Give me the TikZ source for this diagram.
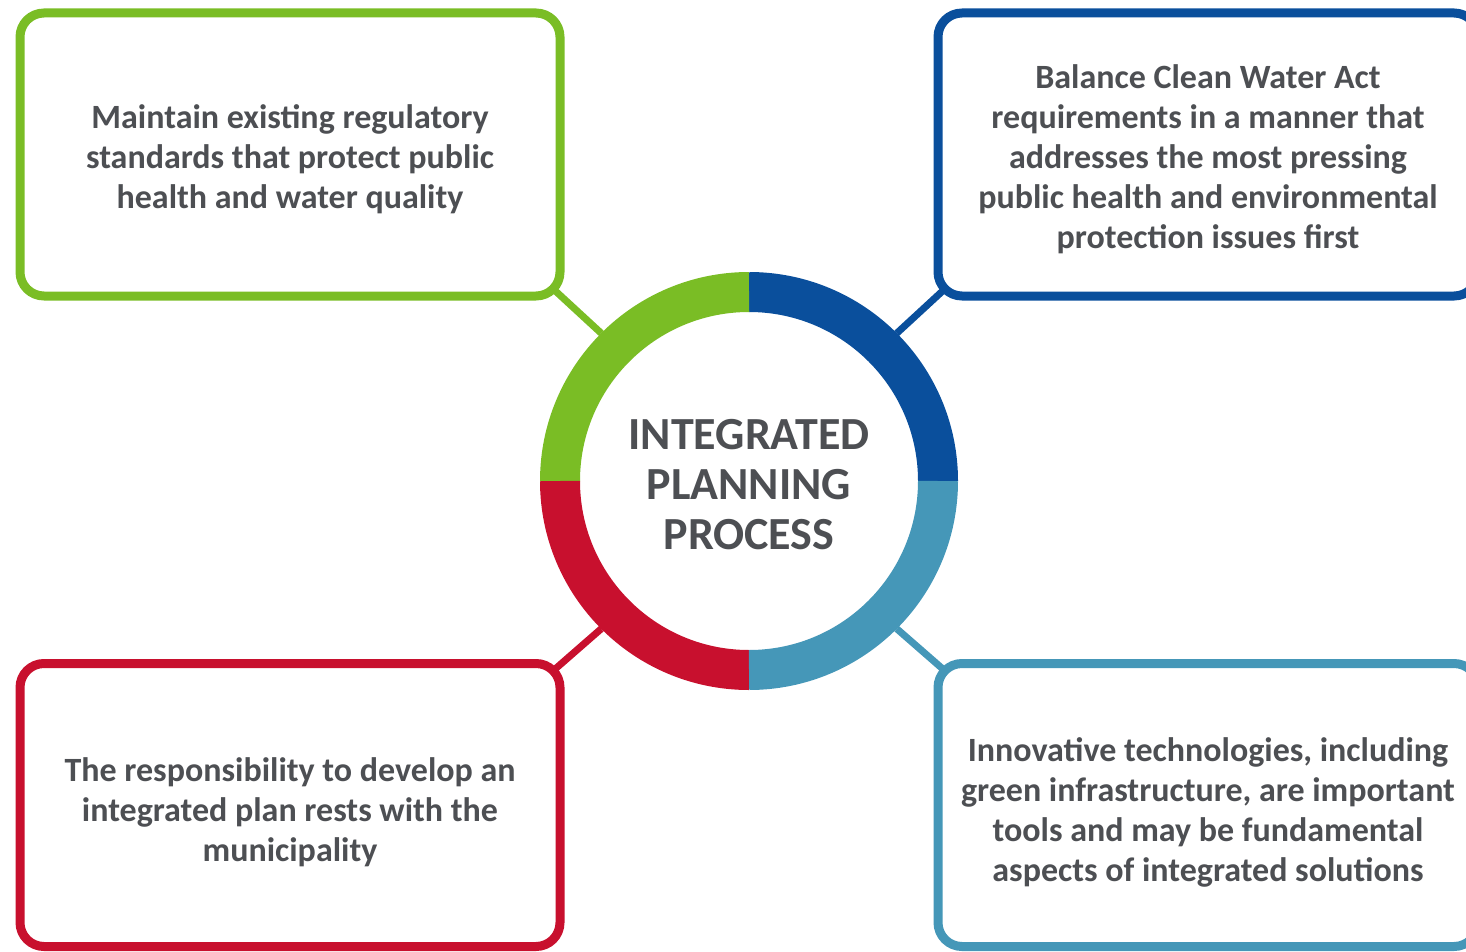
\documentclass[tikz,border=0pt]{standalone}
\usepackage{fontspec}
\setmainfont{Carlito}
\usetikzlibrary{backgrounds}
\definecolor{cgreen}{HTML}{7ABD25}
\definecolor{cblue}{HTML}{0A4F9C}
\definecolor{clight}{HTML}{4597B8}
\definecolor{cred}{HTML}{C8102E}
\definecolor{ctext}{HTML}{4D4F53}
\begin{document}
\begin{tikzpicture}[x=1pt,y=-1pt,
  infobox/.style={draw, line width=9pt, rounded corners=24pt, fill=white,
    outer sep=0pt, minimum width=540pt, minimum height=283pt},
  infotext/.style={align=center, text=ctext, font=\fontsize{34}{40}\selectfont\bfseries},
  link/.style={line width=7pt},
  seg/.style={line width=40pt, line cap=butt}]
\useasboundingbox (0,0) rectangle (1466,952);
\clip (0,0) rectangle (1466,952);
\node[circle, minimum size=418pt, inner sep=0pt, outer sep=0pt] (ring) at (749,481) {};
\node[infobox, draw=cgreen] (g) at (290,154.5) {};
\node[infobox, draw=cblue] (b) at (1208,154.5) {};
\node[infobox, draw=cred] (r) at (290,805) {};
\node[infobox, draw=clight] (l) at (1208,805) {};
\node[infotext] (gt) at ([shift={(0,5)}]g.center) {Maintain existing regulatory\\standards that protect public\\health and water quality};
\node[infotext] (bt) at ([shift={(0,5)}]b.center) {Balance Clean Water Act\\requirements in a manner that\\addresses the most pressing\\public health and environmental\\protection issues first};
\node[infotext] (rt) at ([shift={(0,7)}]r.center) {The responsibility to develop an\\integrated plan rests with the\\municipality};
\node[infotext] (lt) at ([shift={(0,7)}]l.center) {Innovative technologies, including\\green infrastructure, are important\\tools and may be fundamental\\aspects of integrated solutions};
\begin{scope}[on background layer]
\draw[link, cgreen] ([shift={(-10,-10)}]g.south east) -- (ring.135);
\draw[link, cblue] ([shift={(10,-10)}]b.south west) -- (ring.45);
\draw[link, cred] ([shift={(-10,10)}]r.north east) -- (ring.225);
\draw[link, clight] ([shift={(10,10)}]l.north west) -- (ring.315);
\end{scope}
\fill[white] (ring.center) circle[radius=205];
\begin{scope}[shift={(ring.center)}, y=1pt]
\draw[seg, cblue] (0:189) arc[start angle=0, end angle=90, radius=189];
\draw[seg, cgreen] (90:189) arc[start angle=90, end angle=180, radius=189];
\draw[seg, cred] (180:189) arc[start angle=180, end angle=270, radius=189];
\draw[seg, clight] (270:189) arc[start angle=270, end angle=360, radius=189];
\end{scope}
\node[align=center, text=ctext, font=\fontsize{46}{50}\selectfont\bfseries] (t) at (749,485) {INTEGRATED\\PLANNING\\PROCESS};
\end{tikzpicture}
\end{document}
